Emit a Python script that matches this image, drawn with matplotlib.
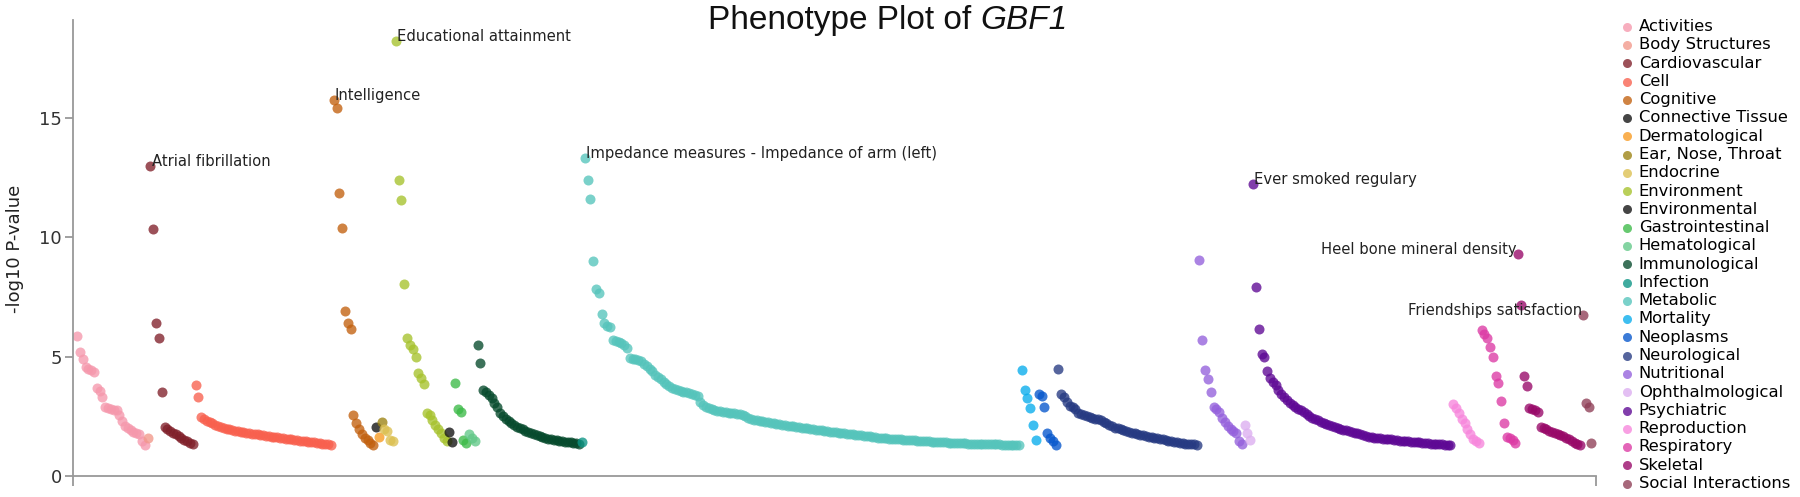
import matplotlib
matplotlib.use("Agg")
import matplotlib.pyplot as plt
import numpy as np

plt.rcParams['font.family'] = ['DejaVu Sans']

# -log10 p-values per category, sorted as drawn
activities = [5.85, 5.2, 4.9, 4.55, 4.5, 4.42, 4.35, 3.7, 3.55, 3.3, 2.9, 2.85, 2.8,
              2.78, 2.75, 2.55, 2.3, 2.1, 2.0, 1.92, 1.86, 1.82, 1.75, 1.45, 1.3]
body_structures = [1.6]
cardiovascular = [13.0, 10.35, 6.4, 5.8, 3.5, 2.05, 1.98, 1.9, 1.82, 1.75, 1.68, 1.6,
                  1.52, 1.45, 1.38, 1.33]
cell = [3.8, 3.3, 2.46, 2.38, 2.32, 2.26, 2.2, 2.15, 2.1, 2.06, 2.02, 1.98, 1.95, 1.92,
        1.9, 1.88, 1.86, 1.84, 1.82, 1.8, 1.78, 1.76, 1.74, 1.72, 1.7, 1.68, 1.67, 1.65,
        1.63, 1.62, 1.6, 1.58, 1.56, 1.54, 1.53, 1.51, 1.5, 1.48, 1.47, 1.45, 1.44, 1.42,
        1.41, 1.39, 1.37, 1.35, 1.34, 1.32, 1.3]
cognitive = [15.75, 15.4, 11.85, 10.4, 6.9, 6.4, 6.15, 2.55, 2.2, 1.95, 1.75, 1.6, 1.5,
             1.4, 1.3]
connective_tissue = [2.07]
dermatological = [1.65]
ear_nose_throat = [2.28]
endocrine = [1.95, 1.9, 1.5, 1.45]
environment = [18.2, 12.4, 11.55, 8.05, 5.8, 5.5, 5.3, 5.0, 4.3, 4.1, 3.85, 2.65, 2.55,
               2.35, 2.15, 1.95, 1.8, 1.6, 1.45]
environmental = [1.86, 1.44]
gastrointestinal = [3.88, 2.8, 2.7, 1.5, 1.4]
hematological = [1.75, 1.6, 1.45]
immunological = [5.5, 4.75, 3.6, 3.5, 3.4, 3.25, 3.05, 2.9, 2.65, 2.5, 2.4, 2.3, 2.2,
                 2.12, 2.07, 2.0, 1.95, 1.9, 1.85, 1.8, 1.78, 1.72, 1.68, 1.65, 1.6, 1.57,
                 1.54, 1.51, 1.5, 1.48, 1.46, 1.44, 1.42, 1.41, 1.4, 1.38, 1.36]
infection = [1.44]
metabolic = [13.3, 12.4, 11.6, 9.0, 7.85, 7.65, 6.8, 6.4, 6.3, 6.25, 5.7, 5.65, 5.6,
             5.55, 5.5, 5.35, 4.95, 4.9, 4.88, 4.85, 4.8, 4.7, 4.6, 4.5, 4.4, 4.25, 4.15,
             4.05, 3.95, 3.85, 3.75, 3.7, 3.65, 3.6, 3.55, 3.52, 3.5, 3.47, 3.44, 3.4,
             3.35, 3.1, 2.97, 2.9, 2.85, 2.8, 2.77, 2.74, 2.72, 2.69, 2.67, 2.65, 2.64,
             2.62, 2.6, 2.58, 2.55, 2.5, 2.42, 2.37, 2.35, 2.33, 2.31, 2.29, 2.27, 2.25,
             2.23, 2.21, 2.19, 2.17, 2.15, 2.13, 2.11, 2.09, 2.08, 2.06, 2.04, 2.02, 2.01,
             1.99, 1.97, 1.95, 1.94, 1.92, 1.91, 1.89, 1.88, 1.86, 1.85, 1.83, 1.82, 1.8,
             1.79, 1.77, 1.76, 1.74, 1.73, 1.71, 1.7, 1.68, 1.67, 1.66, 1.64, 1.63, 1.61,
             1.6, 1.59, 1.58, 1.57, 1.56, 1.55, 1.54, 1.53, 1.52, 1.51, 1.5, 1.5, 1.49,
             1.48, 1.47, 1.46, 1.46, 1.45, 1.44, 1.43, 1.43, 1.42, 1.41, 1.41, 1.4, 1.4,
             1.39, 1.38, 1.38, 1.37, 1.37, 1.36, 1.36, 1.35, 1.35, 1.34, 1.34, 1.33, 1.33,
             1.33, 1.32, 1.32, 1.32, 1.31, 1.31, 1.31, 1.31, 1.3, 1.3, 1.3]
mortality = [4.45, 3.6, 3.25, 2.85, 2.15, 1.5]
neoplasms = [3.45, 3.35, 2.9, 1.8, 1.6, 1.45, 1.3]
neurological = [4.47, 3.45, 3.3, 3.1, 2.95, 2.9, 2.8, 2.65, 2.58, 2.54, 2.5, 2.46, 2.43,
                2.4, 2.37, 2.33, 2.26, 2.2, 2.14, 2.08, 2.03, 2.0, 1.97, 1.93, 1.9, 1.86,
                1.82, 1.79, 1.76, 1.73, 1.7, 1.67, 1.64, 1.62, 1.6, 1.58, 1.55, 1.53, 1.5,
                1.48, 1.46, 1.44, 1.42, 1.4, 1.38, 1.36, 1.35, 1.33, 1.32, 1.3]
nutritional = [9.05, 5.7, 4.45, 4.05, 3.5, 2.9, 2.8, 2.7, 2.45, 2.25, 2.1, 1.95, 1.88,
               1.8, 1.45, 1.35]
ophthalmological = [2.15, 1.8, 1.5]
psychiatric = [12.25, 7.9, 6.15, 5.1, 5.0, 4.4, 4.1, 3.95, 3.8, 3.6, 3.42, 3.3, 3.18,
               3.07, 2.98, 2.9, 2.82, 2.75, 2.68, 2.6, 2.52, 2.45, 2.4, 2.34, 2.28, 2.22,
               2.17, 2.12, 2.08, 2.04, 2.0, 1.97, 1.94, 1.91, 1.88, 1.85, 1.82, 1.79, 1.76,
               1.72, 1.68, 1.65, 1.63, 1.61, 1.6, 1.58, 1.57, 1.55, 1.54, 1.53, 1.51, 1.5,
               1.48, 1.47, 1.46, 1.45, 1.44, 1.43, 1.42, 1.41, 1.4, 1.38, 1.37, 1.36, 1.35,
               1.34, 1.33, 1.32, 1.31, 1.31, 1.3]
reproduction = [3.0, 2.85, 2.65, 2.4, 2.2, 1.95, 1.75, 1.55, 1.45, 1.4]
respiratory = [6.1, 5.95, 5.8, 5.4, 5.0, 4.2, 3.9, 3.15, 2.2, 1.65, 1.58, 1.5, 1.4]
skeletal = [9.3, 7.15, 4.2, 3.75, 2.85, 2.8, 2.75, 2.7, 2.05, 2.0, 1.95, 1.9, 1.86, 1.82,
            1.78, 1.72, 1.66, 1.6, 1.54, 1.48, 1.4, 1.32, 1.3]
social_interactions = [6.75, 3.05, 2.9, 1.4]

categories = ['Activities', 'Body Structures', 'Cardiovascular', 'Cell', 'Cognitive',
              'Connective Tissue', 'Dermatological', 'Ear, Nose, Throat', 'Endocrine',
              'Environment', 'Environmental', 'Gastrointestinal', 'Hematological',
              'Immunological', 'Infection', 'Metabolic', 'Mortality', 'Neoplasms',
              'Neurological', 'Nutritional', 'Ophthalmological', 'Psychiatric',
              'Reproduction', 'Respiratory', 'Skeletal', 'Social Interactions']
series = [activities, body_structures, cardiovascular, cell, cognitive, connective_tissue,
          dermatological, ear_nose_throat, endocrine, environment, environmental,
          gastrointestinal, hematological, immunological, infection, metabolic, mortality,
          neoplasms, neurological, nutritional, ophthalmological, psychiatric,
          reproduction, respiratory, skeletal, social_interactions]
colors = ['#f598ac', '#f2978a', '#80202a', '#f8604e', '#c2600e', '#111111', '#f89a20',
          '#9c8210', '#dcc050', '#a6c22c', '#111111', '#3cba48', '#62c888', '#064a2c',
          '#0a9484', '#55c4bb', '#08acec', '#0556cc', '#263a82', '#9460dc', '#dcaef0',
          '#5e0894', '#f786dc', '#dc3aa4', '#980868', '#8e3e56']

# top hit labels: category -> (text, side)
labels = {
    'Cardiovascular': ('Atrial fibrillation', 'left'),
    'Cognitive': ('Intelligence', 'left'),
    'Environment': ('Educational attainment', 'left'),
    'Metabolic': ('Impedance measures - Impedance of arm (left)', 'left'),
    'Psychiatric': ('Ever smoked regulary', 'left'),
    'Skeletal': ('Heel bone mineral density', 'right'),
    'Social Interactions': ('Friendships satisfaction', 'right'),
}

fig = plt.figure(figsize=(18, 4.97), dpi=100)
ax = fig.add_axes([73 / 1800, 21 / 497, 1523 / 1800, 456 / 497])

handles = []
start = 0
for name, vals, col in zip(categories, series, colors):
    xs = np.arange(start, start + len(vals))
    h = ax.scatter(xs, vals, s=52, color=col, alpha=0.78, linewidths=0, label=name)
    handles.append(h)
    if name in labels:
        txt, side = labels[name]
        k = int(np.argmax(vals))
        dx = 0.4 if side == 'left' else -0.4
        ax.text(xs[k] + dx, vals[k], txt, ha=side, va='baseline', fontsize=10.6,
                color='#222222')
    start += len(vals)

n_total = start
ax.set_xlim(-1.45, n_total + 0.6)
ax.set_ylim(0, 19.1)

for side in ['top', 'right']:
    ax.spines[side].set_visible(False)
for side in ['left', 'bottom']:
    ax.spines[side].set_color('#999999')
    ax.spines[side].set_linewidth(1.3)

ax.set_yticks([0, 5, 10, 15])
ax.tick_params(axis='y', labelsize=13, labelcolor='#333333', color='#999999',
               length=6, width=1.3, pad=2)
ax.set_xticks([-1.45, n_total + 0.6])
ax.set_xticklabels(['', ''])
ax.tick_params(axis='x', color='#999999', length=7, width=1.3)

fig.text(15 / 1800, 0.5, '-log10 P-value', rotation=90, ha='center', va='center',
         fontsize=13, color='#222222')

# title: plain part + italic gene name
t1 = fig.text(708 / 1800, 1 - 29 / 497, 'Phenotype Plot of', ha='left', va='baseline',
              fontsize=24, family='Liberation Sans', color='#111111')
ax.annotate('GBF1', xy=(1, 0), xycoords=t1, xytext=(6.7, 0), textcoords='offset points',
            ha='left', va='bottom', fontsize=24, family='Liberation Sans',
            style='italic', color='#111111', annotation_clip=False)

fig.legend(handles=handles, loc='upper left', bbox_to_anchor=(1619 / 1800, 1 - 19 / 497),
           frameon=False, fontsize=11.8, handletextpad=0.2, labelspacing=0.2,
           handlelength=1.0, borderpad=0, borderaxespad=0, markerscale=0.9,
           scatterpoints=1)

fig.savefig('out.png', dpi=100)
